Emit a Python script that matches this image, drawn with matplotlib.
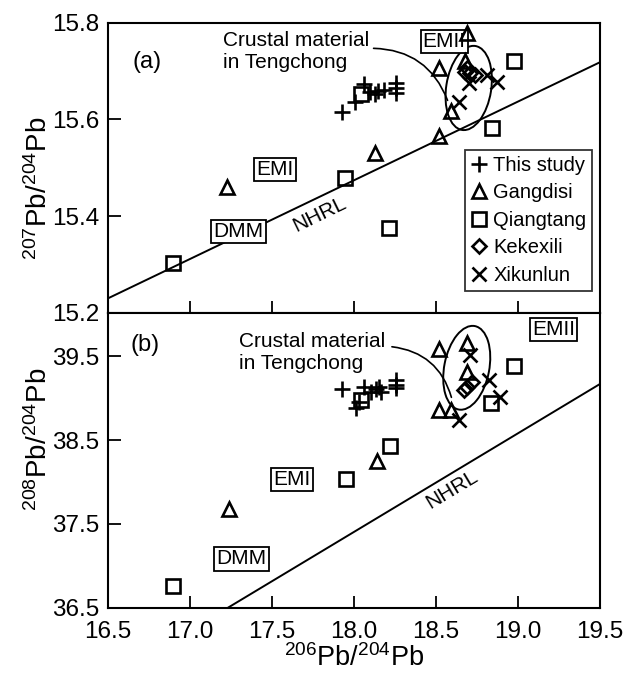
import numpy as np
import matplotlib
matplotlib.use('Agg')
import matplotlib.pyplot as plt
from matplotlib.patches import Ellipse
from matplotlib.transforms import ScaledTranslation

plt.rcParams['font.family'] = ['Liberation Sans', 'DejaVu Sans']
plt.rcParams['mathtext.fontset'] = 'custom'
plt.rcParams['mathtext.rm'] = 'Liberation Sans'
plt.rcParams['mathtext.default'] = 'regular'

# --- Data (206Pb/204Pb, 207Pb/204Pb) ---
this_x_a = [17.93, 18.01, 18.06, 18.10, 18.13, 18.15, 18.185, 18.256, 18.256, 18.256]
this_y_a = [15.615, 15.635, 15.674, 15.656, 15.653, 15.658, 15.660, 15.675, 15.665, 15.654]
gang_x_a = [17.23, 18.13, 18.52, 18.59, 18.52, 18.69, 18.68]
gang_y_a = [15.461, 15.531, 15.565, 15.617, 15.706, 15.778, 15.720]
qian_x_a = [16.895, 17.948, 18.215, 18.043, 18.843, 18.975]
qian_y_a = [15.304, 15.479, 15.375, 15.652, 15.582, 15.720]
keke_x_a = [18.681, 18.711, 18.691, 18.742]
keke_y_a = [15.699, 15.696, 15.706, 15.692]
xiku_x_a = [18.70, 18.64, 18.812, 18.873]
xiku_y_a = [15.675, 15.637, 15.692, 15.678]

# --- Data (206Pb/204Pb, 208Pb/204Pb) ---
this_x_b = [17.93, 18.013, 18.033, 18.063, 18.104, 18.134, 18.154, 18.165, 18.256, 18.256, 18.256]
this_y_b = [39.11, 38.88, 38.96, 39.14, 39.08, 39.11, 39.14, 39.08, 39.22, 39.16, 39.12]
gang_x_b = [17.24, 18.14, 18.52, 18.59, 18.52, 18.69, 18.69]
gang_y_b = [37.68, 38.25, 38.86, 38.86, 39.59, 39.66, 39.32]
qian_x_b = [16.899, 17.952, 18.221, 18.043, 18.839, 18.975]
qian_y_b = [36.76, 38.035, 38.433, 38.98, 38.95, 39.39]
keke_x_b = [18.691, 18.721, 18.671]
keke_y_b = [39.14, 39.20, 39.10]
xiku_x_b = [18.711, 18.823, 18.894, 18.64]
xiku_y_b = [39.52, 39.22, 39.02, 38.744]

# NHRL reference lines (end points as drawn)
nhrl_x_a = [16.5, 19.5]
nhrl_y_a = [15.23, 15.718]
nhrl_x_b = [17.235, 19.5]
nhrl_y_b = [36.5, 39.17]

labels = ['This study', 'Gangdisi', 'Qiangtang', 'Kekexili', 'Xikunlun']

fig = plt.figure(figsize=(6.3, 6.76), dpi=100)
ax1 = fig.add_axes([0.171, 0.537, 0.781, 0.4295])
ax2 = fig.add_axes([0.171, 0.1013, 0.781, 0.4357])

ms = 9.5
mew = 1.9
sty = dict(linestyle='none', color='k', markerfacecolor='none', markeredgewidth=mew)


def draw(ax, tx, ty, gx, gy, qx, qy, kx, ky, xx, xy, nx, ny):
    ax.plot(nx, ny, color='k', lw=1.4)
    ax.plot(tx, ty, marker='+', markersize=ms + 2, label=labels[0], **sty)
    ax.plot(gx, gy, marker='^', markersize=ms, label=labels[1], **sty)
    ax.plot(qx, qy, marker='s', markersize=ms, label=labels[2], **sty)
    ax.plot(kx, ky, marker='D', markersize=ms - 2.5, label=labels[3], **sty)
    ax.plot(xx, xy, marker='x', markersize=ms, label=labels[4], **sty)


draw(ax1, this_x_a, this_y_a, gang_x_a, gang_y_a, qian_x_a, qian_y_a,
     keke_x_a, keke_y_a, xiku_x_a, xiku_y_a, nhrl_x_a, nhrl_y_a)
draw(ax2, this_x_b, this_y_b, gang_x_b, gang_y_b, qian_x_b, qian_y_b,
     keke_x_b, keke_y_b, xiku_x_b, xiku_y_b, nhrl_x_b, nhrl_y_b)

ax1.set_xlim(16.5, 19.5)
ax2.set_xlim(16.5, 19.5)
ax1.set_ylim(15.2, 15.8)
ax2.set_ylim(36.5, 40.02)
ax1.set_yticks([15.2, 15.4, 15.6, 15.8])
ax2.set_yticks([36.5, 37.5, 38.5, 39.5])
ax1.set_xticks(np.arange(16.5, 19.51, 0.5))
ax2.set_xticks(np.arange(16.5, 19.51, 0.5))
ax1.set_xticklabels([])
ax2.set_xticklabels(['16.5', '17.0', '17.5', '18.0', '18.5', '19.0', '19.5'])

for ax in (ax1, ax2):
    for s in ax.spines.values():
        s.set_linewidth(1.5)
    ax.tick_params(direction='in', length=9, width=1.3, labelsize=17.5, pad=6)
ax2.tick_params(axis='x', pad=10)

ax1.set_ylabel(r'$^{207}$Pb/$^{204}$Pb', fontsize=20)
ax2.set_ylabel(r'$^{208}$Pb/$^{204}$Pb', fontsize=20)
ax1.yaxis.set_label_coords(-0.112, 0.43)
ax2.yaxis.set_label_coords(-0.112, 0.57)
ax2.set_xlabel(r'$^{206}$Pb/$^{204}$Pb', fontsize=19.5)
ax2.xaxis.set_label_coords(0.5, -0.125)

# Crustal ellipses
for ax, cx, cy, ang in ((ax1, 18.701, 15.665, -9), (ax2, 18.689, 39.365, -11)):
    tr = fig.dpi_scale_trans + ScaledTranslation(cx, cy, ax.transData)
    ax.add_patch(Ellipse((0, 0), 0.45, 0.85, angle=ang, fill=False,
                         edgecolor='k', lw=1.4, transform=tr))

fs = 15
ax1.text(16.648, 15.719, '(a)', fontsize=17, va='center')
ax2.text(16.64, 39.64, '(b)', fontsize=17, va='center')
ax1.text(17.20, 15.783, 'Crustal material\nin Tengchong', fontsize=fs,
         va='top', linespacing=1.2)
ax2.text(17.30, 39.79, 'Crustal material\nin Tengchong', fontsize=fs,
         va='top', linespacing=1.2)
ax1.annotate('', xy=(18.578, 15.634), xytext=(18.104, 15.747),
             arrowprops=dict(arrowstyle='-', color='k', lw=1.2,
                             connectionstyle='arc3,rad=-0.35'))
ax2.annotate('', xy=(18.60, 38.98), xytext=(18.216, 39.62),
             arrowprops=dict(arrowstyle='-', color='k', lw=1.2,
                             connectionstyle='arc3,rad=-0.35'))

box = dict(boxstyle='square,pad=0.1', facecolor='white', edgecolor='k', lw=1.3)
ax1.text(17.521, 15.496, 'EMI', fontsize=fs, ha='center', va='center', bbox=box)
ax1.text(17.297, 15.368, 'DMM', fontsize=fs, ha='center', va='center', bbox=box)
ax1.text(18.551, 15.761, 'EMII', fontsize=fs, ha='center', va='center', bbox=box, zorder=1)
ax2.text(17.623, 38.027, 'EMI', fontsize=fs, ha='center', va='center', bbox=box)
ax2.text(17.316, 37.08, 'DMM', fontsize=fs, ha='center', va='center', bbox=box)
ax2.text(19.217, 39.82, 'EMII', fontsize=fs, ha='center', va='center', bbox=box)

ax1.text(17.79, 15.4035, 'NHRL', fontsize=fs, ha='center', va='center',
         rotation=26, rotation_mode='anchor')
ax2.text(18.60, 37.907, 'NHRL', fontsize=fs, ha='center', va='center',
         rotation=31, rotation_mode='anchor')

leg = ax1.legend(loc='upper left', bbox_to_anchor=(0.726, 0.5615), fontsize=14.5,
                 frameon=True, fancybox=False, handlelength=0.8,
                 handletextpad=0.3, borderpad=0.3, labelspacing=0.42,
                 borderaxespad=0)
leg.get_frame().set_edgecolor('k')
leg.get_frame().set_linewidth(1.3)

fig.savefig('out.png', dpi=100)
